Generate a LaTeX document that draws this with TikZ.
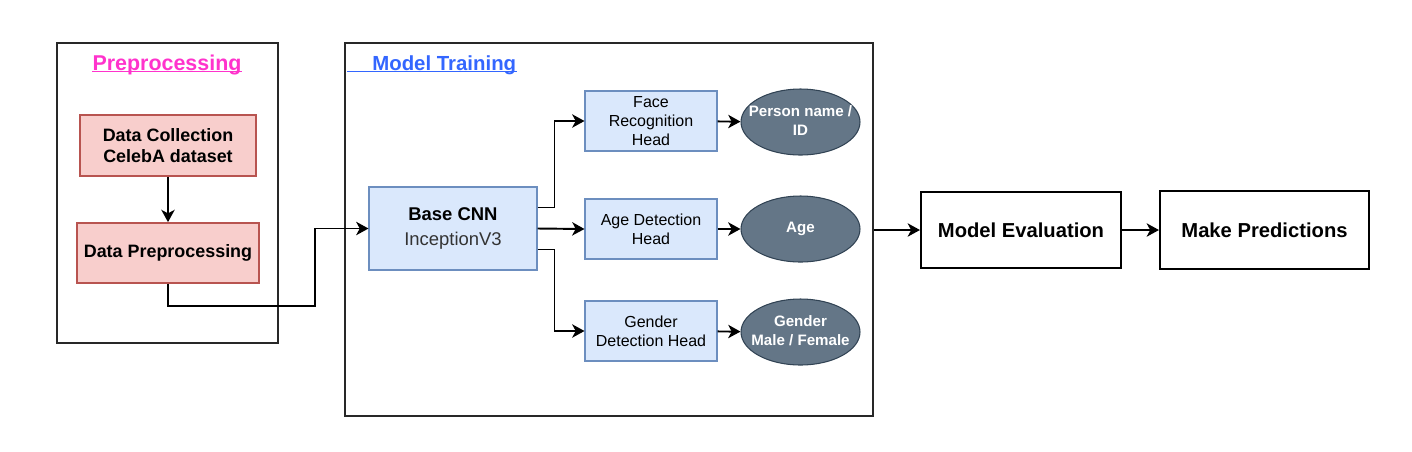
\documentclass[tikz,border=0pt]{standalone}
\usepackage{fontspec}
\setmainfont{Liberation Sans}
\usepackage{tikz}
\usetikzlibrary{arrows.meta,positioning,shapes.geometric}
\definecolor{redfill}{RGB}{248,206,204}
\definecolor{redline}{RGB}{184,84,80}
\definecolor{bluefill}{RGB}{218,232,252}
\definecolor{blueline}{RGB}{108,142,191}
\definecolor{slatefill}{RGB}{100,118,135}
\definecolor{slateline}{RGB}{49,67,84}
\definecolor{pinktitle}{RGB}{255,51,204}
\definecolor{bluetitle}{RGB}{51,102,255}
\definecolor{frameline}{RGB}{40,40,40}
\newcommand{\ovaltext}[1]{\makebox[0pt]{\begin{tabular}{@{}c@{}}#1\end{tabular}}}

\begin{document}
\begin{tikzpicture}[x=0.02cm, y=-0.02cm,
    frame/.style={draw=frameline, line width=1.2pt, inner sep=0pt},
    redbox/.style={draw=redline, fill=redfill, line width=1pt, align=center, font=\bfseries\fontsize{10.2}{12}\selectfont},
    bluebox/.style={draw=blueline, fill=bluefill, line width=0.6pt, align=center, minimum width=2.64cm, minimum height=1.2cm, inner sep=1pt, font=\fontsize{9.1}{10.8}\selectfont},
    outcome/.style={ellipse, draw=slateline, fill=slatefill, line width=0.6pt, text=white, minimum width=2.38cm, minimum height=1.32cm, inner sep=0pt, font=\bfseries\fontsize{8.6}{10.8}\selectfont},
    stage/.style={draw=black, line width=1.2pt, align=center, font=\bfseries\fontsize{11.5}{13}\selectfont},
    conn/.style={line width=1.1pt, -{Stealth[length=7pt,width=7.6pt,inset=2pt]}}]
    \useasboundingbox (0,0) rectangle (1412,451);
    % Pretraitement
    \node[frame, minimum width=4.42cm, minimum height=6cm] (pre) at (167.5,193) {};
    \node[anchor=base, inner sep=0pt, text=pinktitle, font=\bfseries\fontsize{12.2}{14}\selectfont] (pretitle) at (167,70) {Preprocessing};
    \draw[pinktitle, line width=0.6pt] ([yshift=-1.1pt]pretitle.base west) -- ([yshift=-1.1pt]pretitle.base east);
    \node[redbox, minimum width=3.52cm, minimum height=1.22cm] (collect) at (168,145.5) {Data Collection\\CelebA dataset};
    \node[redbox, minimum width=3.64cm, minimum height=1.2cm] (prep) at (168,253) {Data Preprocessing};
    \draw[conn] (collect) -- (prep);
    % Entrainement
    \node[frame, minimum width=10.56cm, minimum height=7.46cm] (train) at (609,229.5) {};
    \node[anchor=base west, inner sep=0pt, text=bluetitle, font=\bfseries\fontsize{11.6}{14}\selectfont] (traintitle) at (372,70) {Model Training};
    \draw[bluetitle, line width=0.6pt] ([xshift=-0.5cm,yshift=-1.1pt]traintitle.base west) -- ([yshift=-1.1pt]traintitle.base east);
    \node[draw=blueline, fill=bluefill, line width=0.6pt, align=center, minimum width=3.36cm, minimum height=1.66cm] (cnn) at (453,228.5)
        {{\bfseries\fontsize{10.5}{13.7}\selectfont Base CNN}\\[2.5pt]{\fontsize{10.5}{13.7}\selectfont\color{black!80}InceptionV3}};
    \node[bluebox] (face) at (651,121) {Face\\Recognition\\Head};
    \node[bluebox] (age) at (651,229) {Age Detection\\Head};
    \node[bluebox] (gender) at (651,331) {Gender\\Detection Head};
    \node[outcome] (person) at (800.5,122) {\ovaltext{Person name /\\ID}};
    \node[outcome] (agelbl) at (800.5,229) {\ovaltext{Age}};
    \node[outcome] (sex) at (800.5,332) {\ovaltext{Gender\\Male / Female}};
    \coordinate (bend) at (315,306);
    \draw[conn] (prep.south) |- (bend) |- (cnn.west);
    \draw[conn] ([yshift=0.42cm]cnn.east) -- ++(17,0) |- (face.west);
    \draw[conn] (cnn.east) -- (age.west);
    \draw[conn] ([yshift=-0.42cm]cnn.east) -- ++(17,0) |- (gender.west);
    \draw[conn] (face) -- (person);
    \draw[conn] (age) -- (agelbl);
    \draw[conn] (gender) -- (sex);
    % Evaluation
    \node[stage, minimum width=4cm, minimum height=1.52cm] (eval) at (1021,230) {Model Evaluation};
    \node[stage, minimum width=4.18cm, minimum height=1.56cm] (predict) at (1264.5,230) {Make Predictions};
    \draw[conn] (train.east |- eval.west) -- (eval.west);
    \draw[conn] (eval) -- (predict);
\end{tikzpicture}
\end{document}
